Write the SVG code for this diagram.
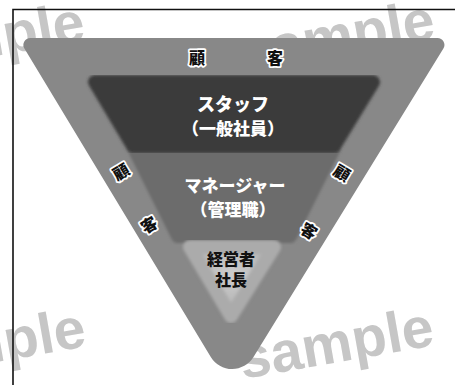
<svg xmlns="http://www.w3.org/2000/svg" width="455" height="385" viewBox="0 0 455 385">
  <style>
    .wm { font-family: "Liberation Sans", Arial, sans-serif; font-weight: bold; font-size: 57px; fill: #c6c6c6; }
    .jw { font-family: "Noto Sans CJK JP", sans-serif; font-weight: 900; fill: #ffffff; text-anchor: middle; }
    .jb { font-family: "Noto Sans CJK JP", sans-serif; font-weight: 900; fill: #111111; text-anchor: middle; }
    .cust { font-family: "Noto Sans CJK JP", sans-serif; font-weight: 900; font-size: 16px; fill: #111111; stroke: #ffffff; stroke-width: 3.5px; stroke-linejoin: round; paint-order: stroke; text-anchor: middle; }
  </style>
  <defs>
    <filter id="soft" x="-10%" y="-10%" width="120%" height="120%">
      <feGaussianBlur stdDeviation="1.6"/>
    </filter>
    <radialGradient id="execGrad" cx="0.5" cy="0.4" r="0.6">
      <stop offset="0" stop-color="#cdcdcd"/>
      <stop offset="0.7" stop-color="#b8b8b8"/>
      <stop offset="1" stop-color="#a8a8a8"/>
    </radialGradient>
  </defs>

  <rect x="0" y="0" width="455" height="385" fill="#ffffff"/>

  <!-- watermarks -->
  <g id="watermarks">
    <text class="wm" x="87" y="40" text-anchor="end" transform="rotate(-10 87 40)">sample</text>
    <text class="wm" x="437" y="38" text-anchor="end" transform="rotate(-10 437 38)">sample</text>
    <text class="wm" x="88" y="346" text-anchor="end" transform="rotate(-10 88 346)">sample</text>
    <text class="wm" x="436" y="345" text-anchor="end" transform="rotate(-10 436 345)">sample</text>
  </g>

  <!-- frame -->
  <path d="M13,385 V9.5 H455" fill="none" stroke="#111111" stroke-width="1.6"/>

  <!-- outer customer triangle -->
  <g id="customers">
    <path d="M30.4,38 L437.5,38 A7,7 0 0 1 443.4,48.6 L253.5,357.1 A25,25 0 0 1 210.8,356.9 L24.4,48.6 A7,7 0 0 1 30.4,38 Z" fill="#888888"/>
  </g>

  <!-- manager layer -->
  <g id="manager">
    <polygon points="135,150 333,150 290,236 178,236" fill="#6c6c6c" stroke="#6c6c6c" stroke-width="14" stroke-linejoin="round" filter="url(#soft)"/>
    <text class="jw" x="235" y="192" font-size="17">マネージャー</text>
    <text class="jw" x="233" y="216" font-size="17">（管理職）</text>
  </g>

  <!-- staff layer -->
  <g id="staff">
    <polygon points="95,82 373,82 334,146 133,146" fill="#3a3a3a" stroke="#3a3a3a" stroke-width="14" stroke-linejoin="round" filter="url(#soft)"/>
    <text class="jw" x="233" y="111" font-size="18">スタッフ</text>
    <text class="jw" x="233" y="135" font-size="17">（一般社員）</text>
  </g>

  <!-- executive layer -->
  <g id="executive">
    <polygon points="190,247 274,247 231,316" fill="url(#execGrad)" stroke="#ababab" stroke-width="14" stroke-linejoin="round" filter="url(#soft)"/>
    <text class="jb" x="231" y="265" font-size="16">経営者</text>
    <text class="jb" x="231" y="286" font-size="16">社長</text>
  </g>

  <!-- customer labels -->
  <g id="customer-labels">
    <text class="cust" y="64"><tspan x="197">顧</tspan><tspan x="275">客</tspan></text>
    <text class="cust" transform="translate(121,172) rotate(-31)" x="0" y="6">顧</text>
    <text class="cust" transform="translate(149,225) rotate(-31)" x="0" y="6">客</text>
    <text class="cust" transform="translate(342,173) rotate(31)" x="0" y="6">顧</text>
    <text class="cust" transform="translate(309,231) rotate(31)" x="0" y="6">客</text>
  </g>
</svg>
